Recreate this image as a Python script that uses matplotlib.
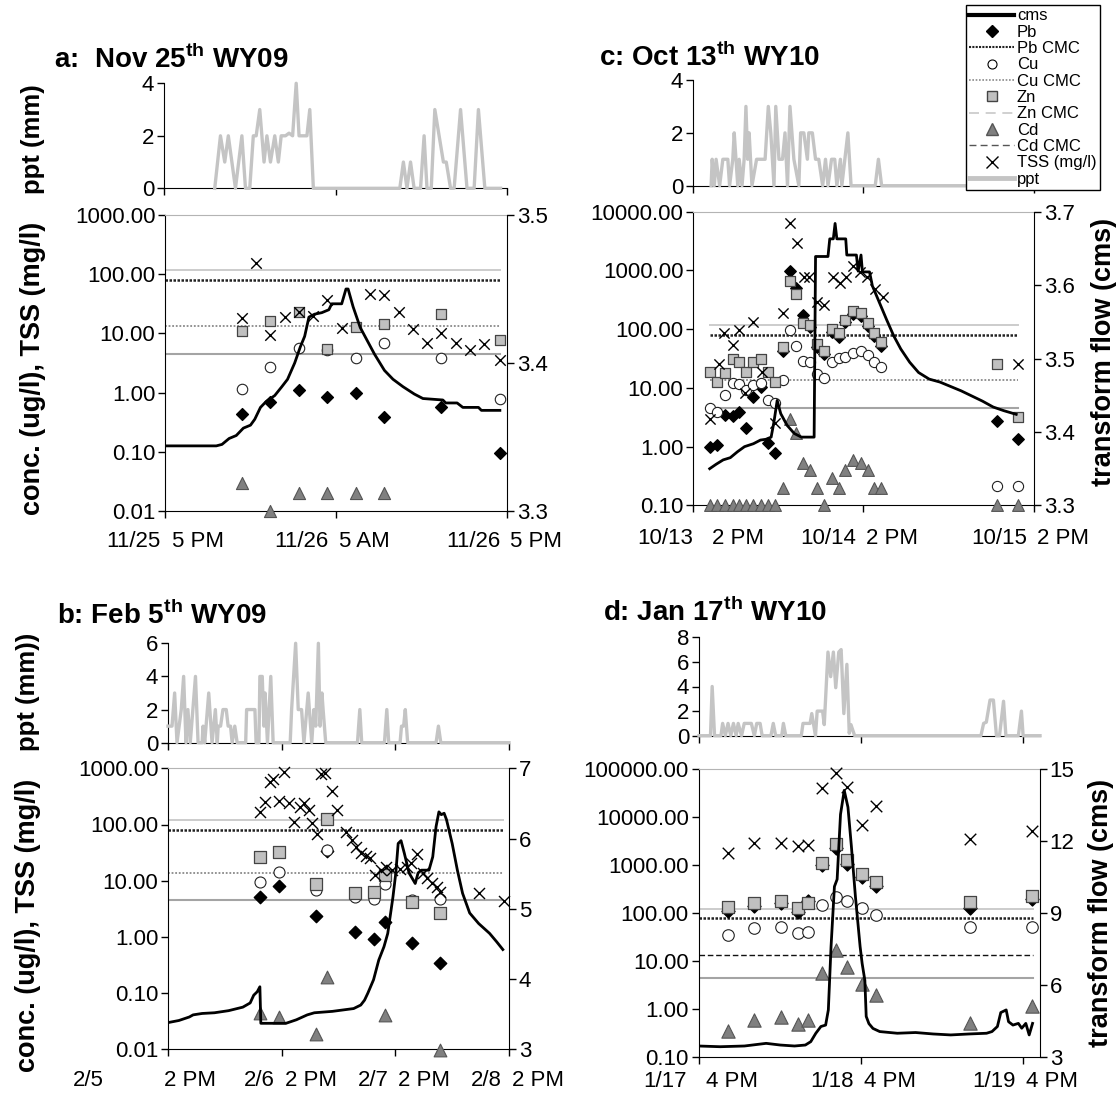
import numpy as np
import matplotlib
matplotlib.use("Agg")
import matplotlib.pyplot as plt
from matplotlib.lines import Line2D
from matplotlib.ticker import NullLocator

plt.rcParams.update({'font.family': 'Liberation Sans', 'font.size': 16,
                     'mathtext.fontset': 'custom', 'mathtext.rm': 'Liberation Sans:bold',
                     'mathtext.bf': 'Liberation Sans:bold'})

W, H = 1117, 1109
PPT = '#c4c4c4'
nan = np.nan

# ---------------- panel a : Nov 25th WY09 (hours after 11/25 5 PM) ----------------
a_ppt_t = [3.55, 3.95, 4.25, 4.5, 5.0, 5.45, 5.7, 6.0, 6.25, 6.45, 6.7, 7.0, 7.2, 7.45, 7.75, 8.0, 8.2, 8.5,
           8.75, 9.0, 9.25, 9.45, 10.0, 10.2, 10.45, 16.5, 16.75, 17.0, 17.25, 17.5, 17.95, 18.2, 18.4, 18.7,
           18.95, 19.55, 19.75, 20.05, 20.3, 20.75, 21.2, 21.7, 22.0, 22.45, 23.55]
a_ppt = [0, 2, 1, 2, 0, 2, 0, 0, 2, 2, 3, 1, 2, 1, 2, 1, 2, 2, 2.1, 2, 4, 2, 2, 3, 0, 0, 1, 0, 1, 0,
         0, 2, 0, 0, 3, 1, 1, 0, 0, 3, 0, 0, 3, 0, 0]
a_cms_t = [0, 3.6, 4.0, 4.5, 5.0, 5.5, 6.0, 6.3, 6.7, 7.1, 7.7, 8.2, 8.6, 9.1, 9.5, 9.8, 10.1, 10.5, 11.0,
           11.5, 11.7, 12.4, 12.7, 12.85, 13.2, 13.7, 14.2, 14.7, 15.4, 16.0, 16.7, 17.5, 18.1, 19.5, 19.7,
           20.5, 20.9, 22.0, 22.2, 23.5]
a_cms = [3.344, 3.344, 3.345, 3.349, 3.351, 3.356, 3.358, 3.362, 3.370, 3.374, 3.378, 3.384, 3.389, 3.400,
         3.411, 3.418, 3.431, 3.433, 3.434, 3.436, 3.440, 3.440, 3.450, 3.450, 3.438, 3.424, 3.415, 3.406,
         3.395, 3.389, 3.384, 3.379, 3.376, 3.375, 3.373, 3.373, 3.370, 3.370, 3.368, 3.368]
a_t = [5.4, 7.4, 9.4, 11.4, 13.4, 15.4, 19.4, 23.5]
a_pb = [0.43, 0.70, 1.10, 0.85, 0.97, 0.38, 0.58, 0.094]
a_cu = [1.13, 2.7, 5.7, 5.3, 3.9, 6.8, 3.8, 0.77]
a_zn = [10.9, 16.4, 23.0, 5.4, 12.6, 14.2, 21.2, 7.8]
a_cd = [0.030, 0.010, 0.020, 0.020, 0.020, 0.020, nan, nan]
a_tss_t = [5.4, 6.4, 7.4, 8.4, 9.4, 10.4, 11.4, 12.4, 14.4, 15.4, 16.4, 17.4, 18.4, 19.4, 20.4, 21.4, 22.4, 23.5]
a_tss = [18.4, 152, 9.4, 19.1, 23.2, 19.6, 36.5, 12.5, 46, 44.5, 22.6, 11.7, 6.8, 10, 6.8, 5.2, 6.6, 3.6]
a_cmc_t = [0, 23.5]

# ---------------- panel b : Feb 5th WY09 (hours after 2/5 2 PM) ----------------
b_ppt_t = [0, 0.85, 1.4, 1.9, 2.8, 3.3, 3.8, 4.2, 4.7, 5.8, 6.35, 7.2, 7.4, 7.75, 8.6, 9.3, 10.0, 10.4, 10.6,
           11.1, 11.6, 12.3, 12.7, 13.2, 13.55, 14.1, 14.6, 16.4, 16.6, 17.8, 18.35, 18.6, 19.2, 19.4, 19.9,
           20.25, 20.5, 21.0, 21.7, 22.2, 25.8, 26.1, 26.95, 27.5, 28.2, 28.7, 29.6, 30.35, 30.8, 31.2, 31.75,
           32.1, 32.5, 32.75, 33.3, 40.0, 40.5, 40.9, 45.7, 46.2, 46.6, 49.0, 49.3, 49.75, 50.1, 50.6, 56.6,
           57.1, 57.6, 72.0]
b_ppt = [1, 1, 3, 0, 2, 4, 0, 2, 0, 4, 0, 0, 1, 0, 3, 0, 2, 0, 1, 1, 2, 2, 1, 1, 0, 1, 0, 0, 2, 2,
         2, 0, 0, 4, 4, 1, 3, 0, 4, 0, 0, 2, 6, 2, 2, 0, 3, 0, 2, 1, 6, 1, 3, 2, 0, 0, 2, 0, 0, 2,
         0, 0, 1, 1, 2, 0, 0, 1, 0, 0]
b_cms_t = [0, 2.3, 4.5, 5.3, 7.2, 9.8, 12.8, 15.8, 17.35, 18.1, 18.85, 19.4, 19.6, 24.9, 27.1, 29.4, 30.9,
           34.7, 39.2, 40.7, 41.5, 42.2, 43.4, 44.5, 45.6, 46.4, 46.8, 47.5, 48.1, 48.6, 49.2, 49.9, 50.9,
           52.2, 52.8, 53.5, 55.1, 55.9, 56.6, 57.2, 57.7, 58.3, 58.8, 60.0, 61.1, 62.2, 63.7, 65.6, 67.9,
           69.4, 70.7]
b_cms = [3.38, 3.41, 3.46, 3.49, 3.51, 3.52, 3.55, 3.60, 3.66, 3.77, 3.82, 3.89, 3.37, 3.37, 3.42, 3.49,
         3.52, 3.54, 3.58, 3.63, 3.70, 3.80, 3.99, 4.27, 4.46, 4.65, 4.84, 5.17, 5.51, 5.93, 5.97, 5.79,
         5.51, 5.36, 5.51, 5.55, 5.55, 5.74, 6.17, 6.38, 6.34, 6.36, 6.27, 5.93, 5.55, 5.22, 4.94, 4.79,
         4.65, 4.53, 4.42]
b_t = [19.4, 23.5, 31.3, 33.6, 39.4, 43.6, 45.8, 51.5, 57.5]
b_pb = [5.2, 8.1, 2.4, 34, 1.24, 0.91, 1.87, 0.79, 0.35]
b_cu = [9.6, 14.1, 6.8, 35, 5.2, 4.7, 8.7, 4.5, 4.7]
b_zn = [26, 33, 8.7, 124, 6.0, 6.4, 12.7, 4.2, 2.7]
b_cd = [0.045, 0.038, 0.019, 0.196, nan, nan, 0.041, nan, 0.0097]
b_tss_t = [19.5, 20.5, 21.5, 22.2, 23.5, 24.5, 25.5, 26.5, 27.9, 28.8, 29.8, 30.5, 31.5, 32.4, 33.2, 34.7,
           35.6, 37.6, 38.8, 39.6, 40.7, 41.9, 42.6, 43.7, 44.9, 46.0, 47.4, 49.0, 50.5, 51.4, 52.6, 53.9,
           54.7, 55.8, 56.7, 57.5, 65.6, 70.9]
b_tss = [169, 255, 580, 640, 266, 870, 245, 112, 208, 245, 182, 105, 68, 793, 815, 401, 182, 75, 53, 40,
         31, 27, 25, 12.7, 15.5, 17.8, 15.5, 16, 17.3, 20.4, 30, 13.6, 11, 9.0, 7.6, 6.4, 6.1, 4.4]
b_cmc_t = [0, 70.7]

# ---------------- panel c : Oct 13th WY10 (hours after 10/13 2 PM) ----------------
c_ppt_t = [2.55, 2.7, 3.0, 3.25, 3.75, 4.2, 4.9, 5.15, 5.6, 5.8, 6.3, 6.5, 6.9, 7.2, 7.45, 7.7, 7.9, 8.3,
           8.95, 10.15, 10.6, 10.95, 11.4, 11.65, 12.1, 12.6, 12.95, 13.3, 13.65, 14.2, 14.9, 15.15, 15.6,
           16.1, 16.3, 16.8, 17.25, 17.7, 18.25, 18.65, 19.0, 19.5, 19.95, 20.25, 20.75, 20.95, 21.8, 22.25,
           25.65, 26.1, 26.55, 48.0]
c_ppt = [0, 1, 0, 1, 0, 1, 1, 0, 1, 2, 0, 1, 0, 1, 3, 1, 2, 0, 1, 1, 3, 2, 0, 3, 1, 1, 2, 0, 3, 1,
         0, 2, 2, 1, 2, 2, 1, 1, 0, 1, 0, 1, 1, 0, 1, 0, 2, 0, 0, 1, 0, 0]
c_cms_t = [2.35, 3.25, 4.25, 5.25, 6.25, 7.25, 8.5, 9.5, 10.25, 11.0, 11.4, 11.85, 12.35, 13.25, 14.25,
           15.25, 17.05, 17.25, 19.0, 19.25, 19.75, 20.0, 20.25, 21.5, 21.65, 23.0, 23.25, 23.65, 23.85,
           24.85, 25.25, 26.25, 27.25, 28.25, 29.25, 30.5, 31.75, 33.25, 34.75, 36.25, 37.75, 39.25, 40.75,
           42.25, 43.75, 45.5]
c_cms = [3.350, 3.356, 3.362, 3.365, 3.373, 3.380, 3.384, 3.389, 3.390, 3.393, 3.414, 3.443, 3.425, 3.409,
         3.398, 3.393, 3.393, 3.639, 3.639, 3.663, 3.663, 3.684, 3.663, 3.663, 3.641, 3.641, 3.619, 3.641,
         3.618, 3.618, 3.599, 3.576, 3.553, 3.531, 3.513, 3.495, 3.481, 3.472, 3.468, 3.462, 3.456, 3.449,
         3.442, 3.434, 3.429, 3.424]
c_t = [2.35, 3.4, 4.5, 5.6, 6.5, 7.5, 8.5, 9.6, 10.5, 11.5, 12.6, 13.65, 14.5, 15.5, 16.4, 17.5, 18.5,
       19.5, 20.6, 21.4, 22.5, 23.6, 24.6, 25.5, 26.5, 42.75, 45.75]
c_pb = [1.0, 1.07, 3.5, 3.3, 3.9, 2.05, 7.1, 10.2, 1.17, 0.78, 42, 970, 495, 174, 110, 50, 38, 90, 75,
        130, 180, 165, 115, 78, 52, 2.7, 1.33]
c_cu = [4.5, 3.9, 7.6, 12.3, 11.7, 9.2, 11.2, 12.3, 6.2, 5.5, 13.6, 97, 52, 29, 28, 17, 14.6, 28, 32,
        34, 39, 43, 36, 28, 23, 0.21, 0.21]
c_zn = [19, 12.8, 18.2, 30.7, 28, 19, 28, 30.7, 19, 12.8, 50, 650, 400, 126, 118, 57, 43, 100, 85,
        145, 205, 186, 129, 87, 61, 26, 3.2]
c_cd = [0.1, 0.1, 0.1, 0.1, 0.1, 0.1, 0.1, 0.1, 0.1, 0.1, 0.2, 3.0, 1.7, 0.52, 0.40, 0.2, 0.1, 0.29,
        0.2, 0.40, 0.59, 0.52, 0.40, 0.2, 0.2, 0.1, 0.1]
c_tss_t = [2.35, 3.6, 4.4, 5.6, 6.5, 7.35, 8.5, 9.65, 11.5, 12.6, 13.65, 14.6, 15.65, 16.35, 17.5, 18.5,
           19.65, 20.75, 21.5, 22.5, 23.5, 24.5, 25.65, 26.75, 45.75]
c_tss = [3.0, 26, 87, 54, 97, 8.3, 134, 19, 2.5, 186, 6300, 2950, 760, 760, 295, 260, 760, 615, 760,
         1190, 950, 780, 490, 350, 26]
c_cmc_t = [2.35, 45.75]

# ---------------- panel d : Jan 17th WY10 (hours after 1/17 4 PM) ----------------
d_ppt_t = [0, 1.7, 1.95, 2.3, 3.25, 3.5, 3.9, 4.3, 4.7, 5.1, 5.5, 5.8, 6.3, 6.7, 7.75, 8.2, 8.55, 9.05,
           9.35, 10.65, 11.0, 11.35, 12.25, 12.5, 12.85, 15.15, 15.4, 16.45, 16.7, 17.25, 17.5, 18.3, 18.55,
           19.1, 19.5, 19.9, 20.25, 20.7, 21.05, 21.45, 21.9, 22.25, 22.5, 23.05, 41.75, 42.15, 42.55, 43.1,
           43.6, 44.05, 44.5, 45.1, 45.45, 47.3, 47.75, 48.0, 50.5]
d_ppt = [0, 0, 4, 0, 0, 1, 0, 1, 0, 1, 0, 1, 0, 1, 1, 0, 1, 1, 0, 0, 1, 0, 0, 1, 0, 0, 1, 1, 1.8, 0,
         2, 2, 0.9, 6.8, 4.8, 6.8, 3.9, 6.8, 7, 1.8, 5.8, 0.2, 0.9, 0, 0, 1, 1.1, 2.9, 2.9, 0,
         0, 2.8, 0, 0, 2, 0, 0]
d_cms_t = [0, 3.2, 6.8, 10.0, 12.1, 14.2, 15.8, 16.6, 17.35, 18.1, 18.8, 19.2, 19.6, 20.1, 20.5, 21.0,
           21.55, 22.1, 22.6, 23.2, 23.9, 24.2, 24.6, 24.8, 25.2, 25.8, 26.8, 29.4, 32.1, 34.7, 37.3, 40.0,
           42.6, 43.4, 44.2, 44.7, 45.5, 45.85, 46.5, 47.3, 47.8, 48.4, 48.9, 49.4]
d_cms = [3.47, 3.44, 3.47, 3.58, 3.51, 3.47, 3.51, 3.65, 4.00, 4.28, 4.34, 4.97, 7.6, 10.1, 10.4, 13.1,
         14.1, 13.4, 11.8, 9.7, 7.6, 6.9, 6.2, 4.7, 4.4, 4.2, 4.07, 4.0, 4.03, 3.97, 3.93, 3.97, 4.0, 4.07,
         4.28, 4.86, 4.97, 4.48, 4.34, 4.41, 4.21, 4.41, 3.93, 4.41]
d_t = [4.3, 8.15, 12.25, 14.7, 16.2, 18.25, 20.35, 22.0, 24.2, 26.2, 40.2, 49.3]
d_pb = [110, 140, 160, 105, 175, 1000, 2300, 1050, 560, 370, 125, 200]
d_cu = [35, 48, 52, 39, 41, 147, 218, 180, 125, 91, 50, 50]
d_zn = [131, 164, 177, 125, 164, 1075, 2670, 1260, 645, 448, 172, 225]
d_cd = [0.36, 0.60, 0.70, 0.49, 0.60, 5.7, 17, 7.7, 3.4, 2.0, 0.51, 1.16]
d_tss = [1795, 2900, 2900, 2460, 2570, 39000, 82600, 42300, 6750, 16700, 3400, 5140]
d_cmc_t = [0, 49.4]

# CMC values (ug/l)
cmc_pb, cmc_cu, cmc_zn, cmc_cd = 80, 13.5, 120, 4.5

fig = plt.figure(figsize=(W / 100, H / 100), dpi=100)
fig.patch.set_facecolor('white')


def px_axes(l, r, t, b):
    return fig.add_axes([l / W, 1 - b / H, (r - l) / W, (b - t) / H])


def draw(p):
    k = p['k']
    # precipitation strip
    axp = px_axes(*p['ppt_box'])
    axp.plot(p['ppt_t'], p['ppt'], color=PPT, lw=2.4, clip_on=False, zorder=3)
    axp.set_xlim(0, p['xmax']); axp.set_ylim(0, p['pmax'])
    axp.set_yticks(range(0, p['pmax'] + 1, 2))
    axp.set_xticks(p['xt']); axp.set_xticklabels([])
    for s in ('top', 'right'):
        axp.spines[s].set_visible(False)
    axp.patch.set_alpha(0)
    axp.tick_params(direction='out', length=5, width=1, labelsize=16, pad=2)

    ax = px_axes(*p['main_box'])
    ax.set_yscale('log')
    ax.set_ylim(*p['ylim']); ax.set_xlim(0, p['xmax'])
    dec = [10.0 ** e for e in range(int(np.log10(p['ylim'][0])), int(np.log10(p['ylim'][1])) + 1)]
    ax.set_yticks(dec); ax.set_yticklabels([f"{v:.2f}" for v in dec])
    ax.yaxis.set_minor_locator(NullLocator())
    ax.set_xticks(p['xt']); ax.set_xticklabels([])
    ax.spines['right'].set_visible(False)
    ax.spines['top'].set_color('#b4b4b4')
    ax.tick_params(direction='out', length=5, width=1, labelsize=16, pad=2)

    ct = p['cmc_t']
    ax.plot(ct, [cmc_zn] * 2, color='#cccccc', lw=1.4, zorder=1)
    ax.plot(ct, [cmc_pb] * 2, color='#222222', lw=1.8, ls=(0, (1, 0.6)), zorder=1)
    if p['cu_dash']:
        ax.plot(ct, [cmc_cu] * 2, color='#111111', lw=1.0, ls=(0, (4, 2)), zorder=1)
    else:
        ax.plot(ct, [cmc_cu] * 2, color='#8a8a8a', lw=1.3, ls=(0, (1, 1)), zorder=1)
    ax.plot(ct, [cmc_cd] * 2, color='#a4a4a4', lw=1.5, zorder=1)

    t = p['t']
    ax.scatter(t, p['pb'], marker='D', s=38 * k, color='black', zorder=2, clip_on=False)
    ax.scatter(t, p['cu'], marker='o', s=60 * k, facecolor='white', edgecolor='#222', lw=0.8, zorder=3, clip_on=False)
    ax.scatter(t, p['zn'], marker='s', s=66 * k, facecolor='#c0c0c0', edgecolor='#444', lw=0.9, zorder=4, clip_on=False)
    ax.scatter(t, p['cd'], marker='^', s=80 * k, facecolor='#808080', edgecolor='#555', lw=0.8, zorder=5, clip_on=False)
    ax.scatter(p['tss_t'], p['tss'], marker='x', s=60 * k, color='black', lw=1.0, zorder=6, clip_on=False)

    ax2 = ax.twinx()
    ax2.plot(p['cms_t'], p['cms'], color='black', lw=2.0, zorder=3)
    ax2.set_ylim(*p['rlim']); ax2.set_yticks(p['rt'])
    ax2.set_yticklabels(p['rtl'])
    for s in ('top', 'left', 'bottom'):
        ax2.spines[s].set_visible(False)
    ax2.tick_params(direction='out', length=5, width=1, labelsize=16, pad=2)

    for i, (tk, (dl, tl)) in enumerate(zip(p['xt'], p['xl'])):
        ddx, tdx = p['first_dx'] if i == 0 else (-7, 3)
        for txt, dx, ha in ((dl, ddx, 'right'), (tl, tdx, 'left')):
            ax.annotate(txt, xy=(tk, 0), xycoords=ax.get_xaxis_transform(), xytext=(dx, -p['lab_off']),
                        textcoords='offset pixels', ha=ha, va='center', fontsize=16, annotation_clip=False)


panels = [
    dict(ppt_box=(164, 507, 83.3, 188.3), main_box=(165, 507, 215, 511), k=0.95,
         ppt_t=a_ppt_t, ppt=a_ppt, pmax=4, xmax=24, xt=[0, 12, 24],
         xl=[("11/25", "5 PM"), ("11/26", "5 AM"), ("11/26", "5 PM")], first_dx=(-4, 7), lab_off=31,
         ylim=(0.01, 1000), cmc_t=a_cmc_t, cu_dash=False,
         t=a_t, pb=a_pb, cu=a_cu, zn=a_zn, cd=a_cd, tss_t=a_tss_t, tss=a_tss,
         cms_t=a_cms_t, cms=a_cms, rlim=(3.3, 3.5), rt=[3.3, 3.4, 3.5], rtl=["3.3", "3.4", "3.5"]),
    dict(ppt_box=(168, 509, 643.3, 742.7), main_box=(168, 509, 768.3, 1049.3), k=1.05,
         ppt_t=b_ppt_t, ppt=b_ppt, pmax=6, xmax=72, xt=[0, 24, 48, 72],
         xl=[("2/5", "2 PM"), ("2/6", "2 PM"), ("2/7", "2 PM"), ("2/8", "2 PM")], first_dx=(-64, -4), lab_off=31,
         ylim=(0.01, 1000), cmc_t=b_cmc_t, cu_dash=False,
         t=b_t, pb=b_pb, cu=b_cu, zn=b_zn, cd=b_cd, tss_t=b_tss_t, tss=b_tss,
         cms_t=b_cms_t, cms=b_cms, rlim=(3, 7), rt=[3, 4, 5, 6, 7], rtl=["3", "4", "5", "6", "7"]),
    dict(ppt_box=(693, 1034, 80, 185.7), main_box=(693, 1034, 211.7, 505.4), k=0.9,
         ppt_t=c_ppt_t, ppt=c_ppt, pmax=4, xmax=48, xt=[0, 24, 48],
         xl=[("10/13", "2 PM"), ("10/14", "2 PM"), ("10/15", "2 PM")], first_dx=(0, 19), lab_off=33,
         ylim=(0.1, 10000), cmc_t=c_cmc_t, cu_dash=False,
         t=c_t, pb=c_pb, cu=c_cu, zn=c_zn, cd=c_cd, tss_t=c_tss_t, tss=c_tss,
         cms_t=c_cms_t, cms=c_cms, rlim=(3.3, 3.7), rt=[3.3, 3.4, 3.5, 3.6, 3.7],
         rtl=["3.3", "3.4", "3.5", "3.6", "3.7"]),
    dict(ppt_box=(699, 1040, 637.3, 735.7), main_box=(698.5, 1040, 768.7, 1057.3), k=1.15,
         ppt_t=d_ppt_t, ppt=d_ppt, pmax=8, xmax=50.5, xt=[0, 24, 48],
         xl=[("1/17", "4 PM"), ("1/18", "4 PM"), ("1/19", "4 PM")], first_dx=(-12, 7), lab_off=24,
         ylim=(0.1, 100000), cmc_t=d_cmc_t, cu_dash=True,
         t=d_t, pb=d_pb, cu=d_cu, zn=d_zn, cd=d_cd, tss_t=d_t, tss=d_tss,
         cms_t=d_cms_t, cms=d_cms, rlim=(3, 15), rt=[3, 6, 9, 12, 15], rtl=["3", "6", "9", "12", "15"]),
]
for p in panels:
    draw(p)

# titles
for x, y, s in [(53.6, 67.5, r"a:  Nov 25$^{\mathbf{th}}$ WY09"), (599, 66.5, r"c: Oct 13$^{\mathbf{th}}$ WY10"),
                (57, 624.5, r"b: Feb 5$^{\mathbf{th}}$ WY09"), (602.6, 621, r"d: Jan 17$^{\mathbf{th}}$ WY10")]:
    fig.text(x / W, 1 - y / H, s, ha='left', va='baseline', fontsize=20, fontweight='bold')

# axis titles
lab = dict(rotation=90, ha='center', va='center', fontweight='bold')
fig.text(33 / W, 1 - 139 / H, "ppt (mm)", fontsize=18.5, **lab)
fig.text(33 / W, 1 - 368 / H, "conc. (ug/l), TSS (mg/l)", fontsize=19.5, **lab)
fig.text(28 / W, 1 - 692 / H, "ppt (mm))", fontsize=18.5, **lab)
fig.text(28 / W, 1 - 925 / H, "conc. (ug/l), TSS (mg/l)", fontsize=19.5, **lab)
fig.text(1104 / W, 1 - 352 / H, "transform flow (cms)", fontsize=19.5, **lab)
fig.text(1101 / W, 1 - 913 / H, "transform flow (cms)", fontsize=19.5, **lab)

handles = [
    Line2D([], [], color='black', lw=3),
    Line2D([], [], ls='none', marker='D', color='black', ms=6),
    Line2D([], [], color='#222222', lw=1.5, ls=(0, (1, 0.6))),
    Line2D([], [], ls='none', marker='o', mfc='white', mec='black', ms=6.5, mew=0.8),
    Line2D([], [], color='#8a8a8a', lw=1.2, ls=(0, (1, 1))),
    Line2D([], [], ls='none', marker='s', mfc='#c0c0c0', mec='#444', ms=7),
    Line2D([], [], color='#c8c8c8', lw=1.2, ls=(0, (6, 4))),
    Line2D([], [], ls='none', marker='^', mfc='#808080', mec='#555', ms=8),
    Line2D([], [], color='#555555', lw=1.0, ls=(0, (5, 3))),
    Line2D([], [], ls='none', marker='x', color='black', ms=8),
    Line2D([], [], color=PPT, lw=3.5),
]
labels = ["cms", "Pb", "Pb CMC", "Cu", "Cu CMC", "Zn", "Zn CMC", "Cd", "Cd CMC", "TSS (mg/l)", "ppt"]
leg = fig.legend(handles, labels, loc='upper left', bbox_to_anchor=(966 / W, 1 - 5 / H),
                 bbox_transform=fig.transFigure, fontsize=12, frameon=True, fancybox=False,
                 edgecolor='black', framealpha=1, borderpad=0.2, labelspacing=0.08, handlelength=2.7,
                 handletextpad=0.15, borderaxespad=0, handleheight=0.6)
leg.get_frame().set_linewidth(1)

fig.savefig("out.png", dpi=100, facecolor='white')
